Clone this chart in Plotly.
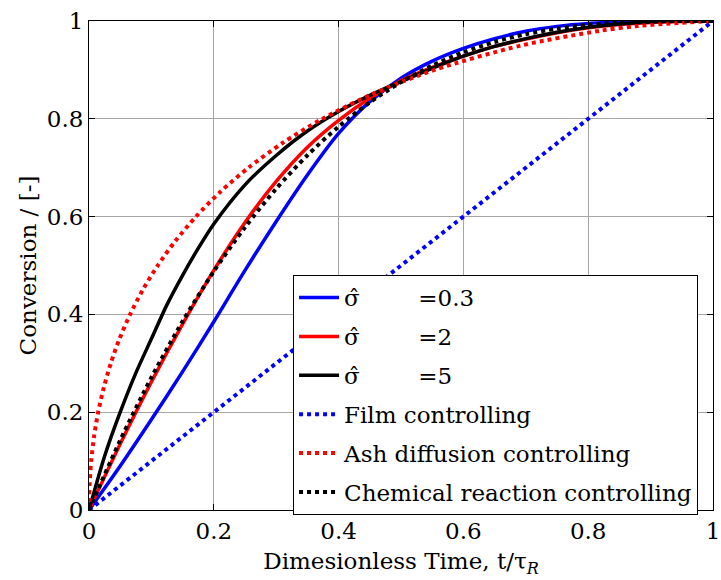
import plotly.graph_objects as go

# ---- data ----
t_grid = [0, 0.05, 0.1, 0.15, 0.2, 0.25, 0.3, 0.35, 0.4, 0.45, 0.5,
          0.55, 0.6, 0.65, 0.7, 0.75, 0.8, 0.85, 0.9, 0.95, 1.0]

x_sigma_03 = [0, 0.09, 0.185, 0.283, 0.385, 0.49, 0.59, 0.685, 0.77, 0.835, 0.883,
              0.918, 0.944, 0.964, 0.979, 0.989, 0.995, 0.998, 1.0, 1.0, 1.0]
x_sigma_2 = [0, 0.135, 0.262, 0.38, 0.49, 0.588, 0.672, 0.742, 0.797, 0.842, 0.878,
             0.905, 0.928, 0.948, 0.963, 0.976, 0.986, 0.993, 0.997, 0.999, 1.0]

t_sigma_5 = [0, 0.025, 0.05, 0.075, 0.1, 0.125, 0.15, 0.175, 0.2, 0.25, 0.3,
             0.35, 0.4, 0.45, 0.5, 0.55, 0.6, 0.65, 0.7, 0.75, 0.8, 0.85, 0.9, 0.95, 1.0]
x_sigma_5 = [0, 0.11, 0.2, 0.28, 0.35, 0.42, 0.48, 0.535, 0.585, 0.665, 0.725,
             0.775, 0.815, 0.848, 0.876, 0.903, 0.928, 0.948, 0.964, 0.977, 0.987,
             0.994, 0.998, 1.0, 1.0]

t_film = [0, 1.0]
x_film = [0, 1.0]

x_ash = [0, 0.025, 0.05, 0.1, 0.15, 0.2, 0.25, 0.3, 0.35, 0.4, 0.45, 0.5, 0.55,
         0.6, 0.65, 0.7, 0.75, 0.8, 0.85, 0.9, 0.95, 0.98, 0.99, 1.0]
t_ash = [0, 0.0002, 0.0008, 0.0035, 0.0081, 0.0147, 0.0236, 0.0349, 0.0488,
         0.0659, 0.0861, 0.1101, 0.1383, 0.1714, 0.2100, 0.2556, 0.3095, 0.3740,
         0.4531, 0.5537, 0.6928, 0.8190, 0.8808, 1.0]

x_chem = [0, 0.1426, 0.271, 0.3859, 0.488, 0.5781, 0.657, 0.7254, 0.784, 0.8336,
          0.875, 0.9089, 0.936, 0.9571, 0.973, 0.9844, 0.992, 0.9966, 0.999,
          0.9999, 1.0]

tick_vals = [0, 0.2, 0.4, 0.6, 0.8, 1]
tick_text = ["0", "0.2", "0.4", "0.6", "0.8", "1"]

sp = "\u00a0" * 8
names = ["σ\u0302" + sp + "=0.3", "σ\u0302" + sp + "=2", "σ\u0302" + sp + "=5",
         "Film controlling", "Ash diffusion controlling", "Chemical reaction controlling"]

FONT = "DejaVu Serif"
fig = go.Figure()

def add(x, y, name, color, dash, width):
    fig.add_trace(go.Scatter(x=x, y=y, mode="lines", name=name, legendgroup=name,
                             line=dict(color=color, dash=dash, width=width,
                                       shape="spline", smoothing=0.8)))

add(t_grid, x_sigma_03, names[0], "#0000ff", "solid", 3.5)
add(t_grid, x_sigma_2, names[1], "#ff0000", "solid", 3.5)
add(t_sigma_5, x_sigma_5, names[2], "#000000", "solid", 3.5)
add(t_film, x_film, names[3], "#0000ff", "dot", 4)
add(t_ash, x_ash, names[4], "#ff0000", "dot", 4)
add(t_grid, x_chem, names[5], "#000000", "dot", 4)

axis_common = dict(
    range=[0, 1], tickvals=tick_vals, ticktext=tick_text,
    showgrid=True, gridcolor="#a6a6a6", gridwidth=1,
    showline=True, linecolor="black", linewidth=1, mirror="ticks",
    ticks="inside", ticklen=6, tickcolor="black", automargin=False,
    zeroline=False, tickfont=dict(family=FONT, size=23, color="black"),
)

fig.update_xaxes(**axis_common,
                 title=dict(text="Dimesionless Time, t/τ<sub><i>R</i></sub>",
                            font=dict(family=FONT, size=23, color="black"), standoff=10))
fig.update_yaxes(**axis_common,
                 title=dict(text="Conversion / [-]",
                            font=dict(family=FONT, size=23, color="black"), standoff=3))

fig.update_layout(
    width=721, height=580,
    margin=dict(l=89, r=8, t=21, b=70),
    paper_bgcolor="white", plot_bgcolor="white",
    font=dict(family=FONT, size=23, color="black"),
    legend=dict(x=0.327, y=0.4805, xanchor="left", yanchor="top",
                bgcolor="white", bordercolor="black", borderwidth=1,
                font=dict(family=FONT, size=23, color="black"),
                itemwidth=40, tracegroupgap=6, traceorder="grouped"),
    showlegend=True,
)

fig.write_html("out.html", config={"displayModeBar": False},
               post_script="document.body.style.margin='0';document.body.style.overflow='hidden';")
